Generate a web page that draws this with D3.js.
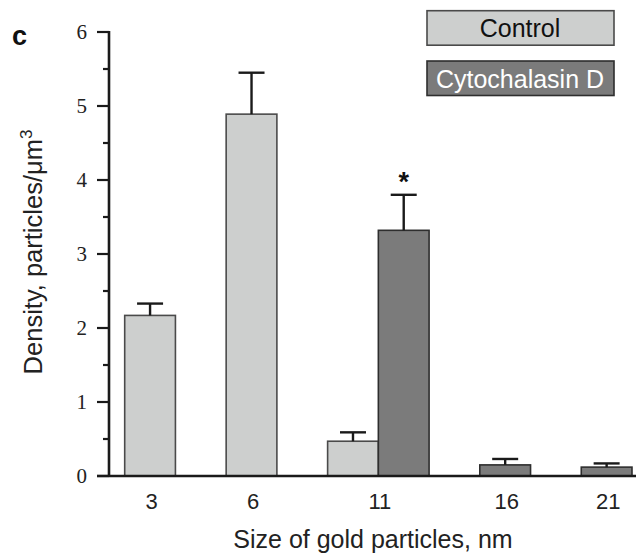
<!DOCTYPE html>
<html><head><meta charset="utf-8">
<script src="https://cdn.jsdelivr.net/npm/d3@7"></script>
<style>body{margin:0;background:#fff}svg{display:block}</style>
</head><body><svg id="c" width="636" height="558"></svg>
<script>
const sizes = ["3", "6", "11", "16", "21"];
const controlMean = [2.17, 4.89, 0.47, null, null];
const controlErr  = [0.16, 0.56, 0.12, null, null];
const cytoMean    = [null, null, 3.32, 0.15, 0.12];
const cytoErr     = [null, null, 0.48, 0.08, 0.05];
const significant = [null, null, "cyto", null, null];
const yTicks = [0, 1, 2, 3, 4, 5, 6];
const seriesNames = ["Control", "Cytochalasin D"];

const svg = d3.select("#c");
const axisX = 109, y0 = 476, yTop = 32;
const y = d3.scaleLinear().domain([0, 6]).range([y0, yTop]);
const sans = "Liberation Sans, Arial, Helvetica, sans-serif";

// slots: each bar present, plus a gap between groups
const slots = [], bars = [];
sizes.forEach((s, i) => {
  if (controlMean[i] != null) { slots.push(s + "C"); bars.push({size: s, key: s + "C", v: controlMean[i], e: controlErr[i], ser: 0, sig: significant[i] === "control"}); }
  if (cytoMean[i] != null) { slots.push(s + "D"); bars.push({size: s, key: s + "D", v: cytoMean[i], e: cytoErr[i], ser: 1, sig: significant[i] === "cyto"}); }
  if (i < sizes.length - 1) slots.push(s + "gap");
});
const x = d3.scaleBand().domain(slots).range([124.7, 632]).paddingInner(0);
const fills = ["#cdcfce", "#7b7b7b"], strokes = ["#4a4a4a", "#2e2e2e"];

// bars
svg.append("g").selectAll("rect").data(bars).join("rect")
  .attr("x", d => x(d.key)).attr("width", x.bandwidth())
  .attr("y", d => y(d.v)).attr("height", d => y(0) - y(d.v))
  .attr("fill", d => fills[d.ser]).attr("stroke", d => strokes[d.ser]).attr("stroke-width", 1.6);

// error bars
const eg = svg.append("g").attr("stroke", "#1a1a1a").attr("stroke-width", 2.4);
bars.forEach(d => {
  const cx = x(d.key) + x.bandwidth() / 2;
  eg.append("line").attr("x1", cx).attr("x2", cx).attr("y1", y(d.v)).attr("y2", y(d.v + d.e));
  eg.append("line").attr("x1", cx - 13).attr("x2", cx + 13).attr("y1", y(d.v + d.e)).attr("y2", y(d.v + d.e));
  if (d.sig) svg.append("text").attr("x", cx).attr("y", y(d.v + d.e) - 4)
    .attr("text-anchor", "middle").attr("font-family", sans)
    .attr("font-weight", "bold").attr("font-size", 27).attr("fill", "#111").text("*");
});

// y axis
const ya = svg.append("g");
ya.append("line").attr("x1", axisX).attr("x2", axisX).attr("y1", yTop - 1).attr("y2", y0 + 1)
  .attr("stroke", "#1a1a1a").attr("stroke-width", 2.6);
const minor = d3.range(0.5, 6, 1);
ya.selectAll(".mj").data(yTicks).join("line").attr("x1", 97).attr("x2", axisX)
  .attr("y1", d => y(d)).attr("y2", d => y(d)).attr("stroke", "#1a1a1a").attr("stroke-width", 2.2);
ya.selectAll(".mn").data(minor).join("line").attr("x1", 103).attr("x2", axisX)
  .attr("y1", d => y(d)).attr("y2", d => y(d)).attr("stroke", "#1a1a1a").attr("stroke-width", 2.2);
ya.selectAll("text").data(yTicks).join("text").attr("x", 87).attr("y", d => y(d)).attr("dy", "0.34em")
  .attr("text-anchor", "end").attr("font-family", "Liberation Serif, Times New Roman, serif")
  .attr("font-size", 21).attr("fill", "#222").text(d => d);

// x axis
svg.append("line").attr("x1", 97).attr("x2", 636).attr("y1", y0).attr("y2", y0)
  .attr("stroke", "#1a1a1a").attr("stroke-width", 2.6);
const groupCenter = s => {
  const ks = bars.filter(b => b.size === s);
  return d3.mean(ks, b => x(b.key) + x.bandwidth() / 2);
};
svg.append("g").selectAll("text").data(sizes).join("text")
  .attr("x", s => groupCenter(s) + 1.5).attr("y", 508.5).attr("text-anchor", "middle")
  .attr("font-family", sans).attr("font-size", 22).attr("fill", "#222").text(s => s);

// axis titles
svg.append("text").attr("x", 373).attr("y", 548).attr("text-anchor", "middle")
  .attr("font-family", sans).attr("font-size", 25).attr("fill", "#222")
  .text("Size of gold particles, nm");
const yt = svg.append("text").attr("transform", "translate(42,252) rotate(-90)").attr("text-anchor", "middle")
  .attr("font-family", sans).attr("font-size", 25.5).attr("fill", "#222");
yt.append("tspan").text("Density, particles/\u03bcm");
yt.append("tspan").attr("font-size", 17).attr("dy", -10).text("3");

// panel letter
svg.append("text").attr("x", 12).attr("y", 45).attr("font-family", sans)
  .attr("font-weight", "bold").attr("font-size", 27).attr("fill", "#111").text("c");

// legend
const lg = svg.append("g");
seriesNames.forEach((n, i) => {
  const top = [10.7, 61][i];
  lg.append("rect").attr("x", 427).attr("y", top).attr("width", 187).attr("height", 34.5)
    .attr("fill", fills[i]).attr("stroke", strokes[i]).attr("stroke-width", 1.6);
  lg.append("text").attr("x", 520).attr("y", top + 17.5).attr("dy", "0.36em").attr("text-anchor", "middle")
    .attr("font-family", sans).attr("font-size", 25)
    .attr("fill", i === 0 ? "#111" : "#fff").text(n);
});
</script></body></html>
